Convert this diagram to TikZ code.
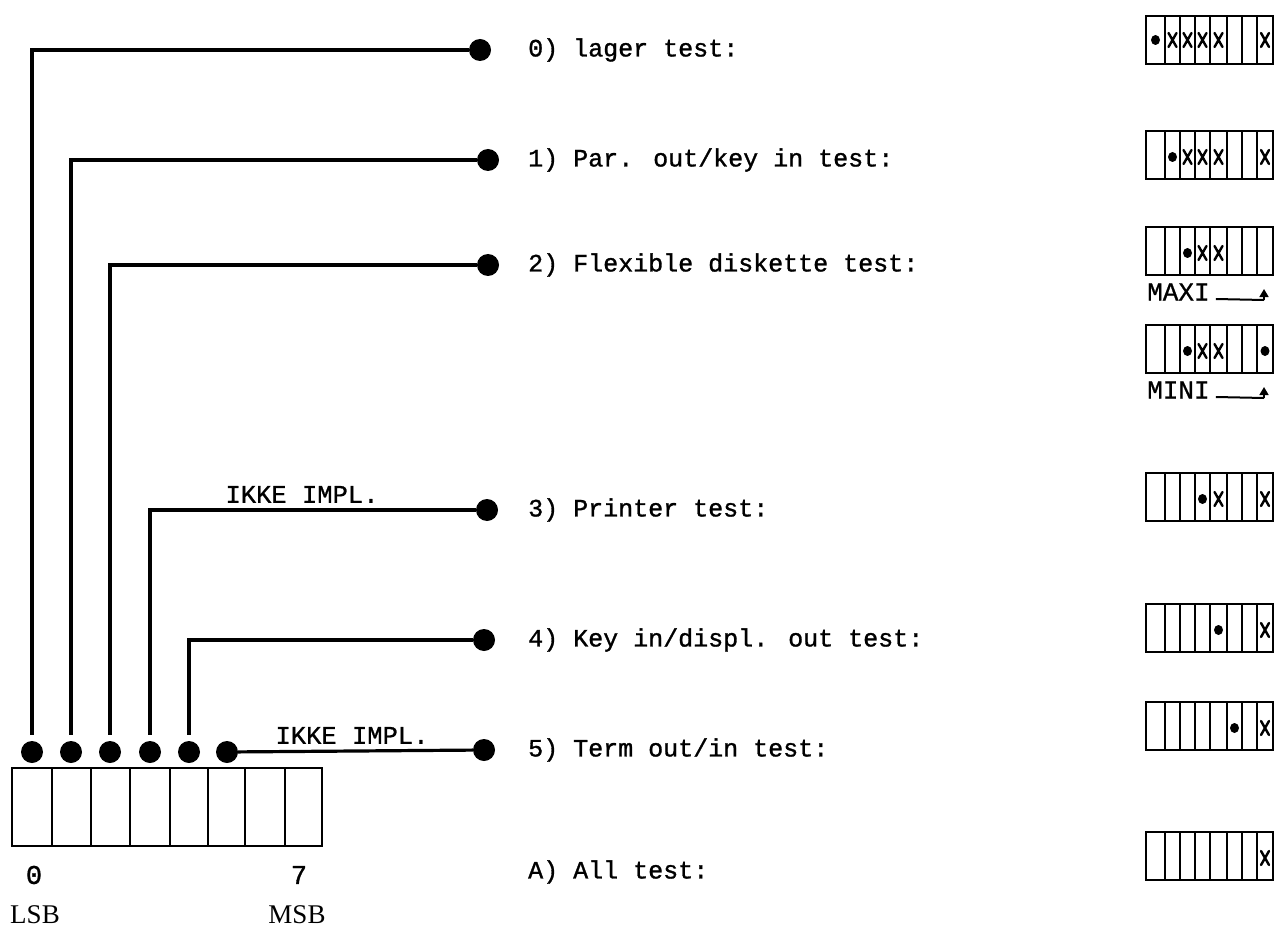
\documentclass[tikz,border=0pt]{standalone}
\usepackage{fontspec}
\setmainfont{Liberation Serif}
\setmonofont{Liberation Mono}
\newfontfamily\twfont[FakeBold=1.2]{Liberation Mono}
\newfontfamily\twcaps[FakeBold=0.8]{Liberation Mono}
\usetikzlibrary{arrows.meta}
\begin{document}
\begin{tikzpicture}[x=1pt,y=-1pt,
  wire/.style={line width=3.2pt},
  dotn/.style={circle,fill=black,inner sep=0pt,minimum size=22pt},
  lbl/.style={font=\twfont\fontsize{25}{28}\selectfont,anchor=west,inner sep=0pt},
  ikke/.style={font=\twcaps\fontsize{25.5}{28}\selectfont,anchor=south,inner sep=0pt},
  small/.style={font=\twcaps\fontsize{26}{28}\selectfont,anchor=west,inner sep=0pt},
  cellbox/.style={line width=2.8pt},
  mk/.style={line width=2.4pt,line cap=round},
  rbox/.pic={
    \draw[cellbox] (1146,0) rectangle (1273,48);
    \foreach \d in {1165,1180,1195,1210,1227,1242,1257} \draw[cellbox] (\d,0) -- (\d,48);
  },
  xm/.pic={\draw[mk] (-4,-7) -- (4,7) (4,-7) -- (-4,7);},
  dm/.pic={\fill (0,0) ellipse (4.5pt and 5pt);}
]
\useasboundingbox (0,0) rectangle (1279,933);

% right-hand dots
\node[dotn] (r0) at (480,50) {};
\node[dotn] (r1) at (488,160) {};
\node[dotn] (r2) at (488,265) {};
\node[dotn] (r3) at (487,510) {};
\node[dotn] (r4) at (484,640) {};
\node[dotn] (r5) at (484,750) {};

% bottom dots
\node[dotn] (b0) at (32,752) {};
\node[dotn] (b1) at (71,752) {};
\node[dotn] (b2) at (110,752) {};
\node[dotn] (b3) at (150,752) {};
\node[dotn] (b4) at (189,752) {};
\node[dotn] (b5) at (227,752) {};

% connectors
\draw[wire,shorten <=6pt] (b0) |- (r0);
\draw[wire,shorten <=6pt] (b1) |- (r1);
\draw[wire,shorten <=6pt] (b2) |- (r2);
\draw[wire,shorten <=6pt] (b3) |- (r3);
\draw[wire,shorten <=6pt] (b4) |- (r4);
\draw[wire] (b5) -- (r5);

\node[ikke] (ik3) at (302,503) {IKKE IMPL.};
\node[ikke] (ik5) at (352,744) {IKKE IMPL.};

% labels
\node[lbl] (t0) at (528,50) {0) lager test:};
\node[lbl] (t1) at (528,160) {1) Par. out/key in test:};
\node[lbl] (t2) at (528,265) {2) Flexible diskette test:};
\node[lbl] (t3) at (528,510) {3) Printer test:};
\node[lbl] (t4) at (528,640) {4) Key in/displ. out test:};
\node[lbl] (t5) at (528,750) {5) Term out/in test:};
\node[lbl] (tA) at (528,872) {A) All test:};

% register
\draw[line width=2.8pt] (12,768) rectangle (322,846);
\foreach \d in {52,91,130,170,208,245,285} \draw[line width=2.8pt] (\d,768) -- (\d,846);
\node[font=\twfont\fontsize{27}{28}\selectfont,inner sep=0pt] (n0) at (34,875) {0};
\node[font=\twfont\fontsize{27}{28}\selectfont,inner sep=0pt] (n7) at (299,875) {7};
\node[font=\fontsize{27}{28}\selectfont,inner sep=0pt] (lsb) at (35,915) {LSB};
\node[font=\fontsize{27}{28}\selectfont,inner sep=0pt] (msb) at (297,915) {MSB};

% right boxes
% box 0
\pic at (0,16) {rbox};
\pic at (1155.5,40) {dm};
\foreach \c in {1172.5,1187.5,1202.5,1218.5,1265} \pic at (\c,40) {xm};
% box 1
\pic at (0,131) {rbox};
\pic at (1172.5,157) {dm};
\foreach \c in {1187.5,1202.5,1218.5,1265} \pic at (\c,157) {xm};
% box 2 MAXI
\pic at (0,227) {rbox};
\pic at (1187.5,253) {dm};
\foreach \c in {1202.5,1218.5} \pic at (\c,253) {xm};
\node[small] (maxi) at (1147,292) {MAXI};
\coordinate (maxa) at (1264,300);
\draw[line width=2pt] (maxi.east) ++(6,7) -- (maxa);
\draw[line width=1.6pt,-{Triangle[length=8pt,width=9pt]}] (maxa) -- ++(0,-11);
% box MINI
\pic at (0,325) {rbox};
\pic at (1187.5,351) {dm};
\foreach \c in {1202.5,1218.5} \pic at (\c,351) {xm};
\pic at (1265,351) {dm};
\node[small] (mini) at (1147,390) {MINI};
\coordinate (mina) at (1264,398);
\draw[line width=2pt] (mini.east) ++(6,7) -- (mina);
\draw[line width=1.6pt,-{Triangle[length=8pt,width=9pt]}] (mina) -- ++(0,-11);
% box 3
\pic at (0,473) {rbox};
\pic at (1202.5,499) {dm};
\foreach \c in {1218.5,1265} \pic at (\c,499) {xm};
% box 4
\pic at (0,604) {rbox};
\pic at (1218.5,630) {dm};
\pic at (1265,630) {xm};
% box 5
\pic at (0,702) {rbox};
\pic at (1234.5,728) {dm};
\pic at (1265,728) {xm};
% box A
\pic at (0,832) {rbox};
\pic at (1265,858) {xm};
\end{tikzpicture}
\end{document}
